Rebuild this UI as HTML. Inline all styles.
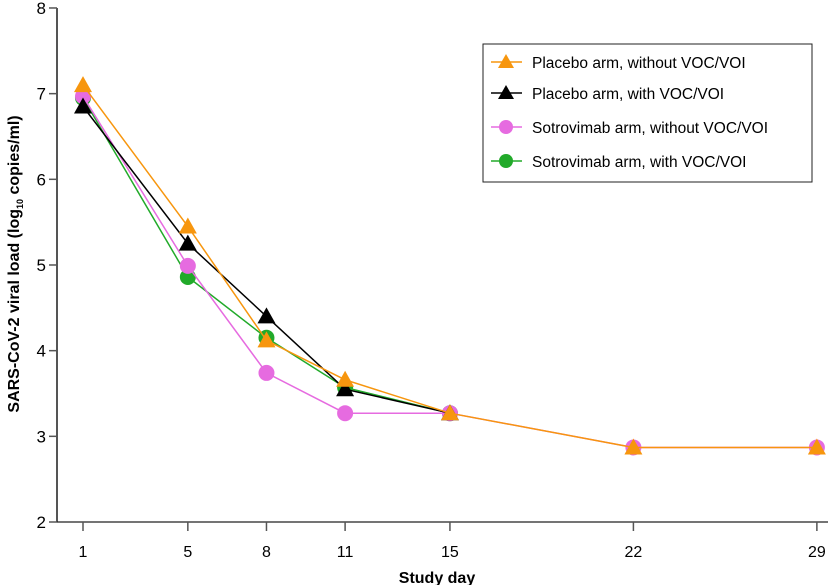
<!DOCTYPE html>
<html><head><meta charset="utf-8"><style>
body{margin:0;background:#fff}
svg{display:block;font-family:"Liberation Sans",Arial,sans-serif}
</style></head><body>
<svg id="chart" width="828" height="585" viewBox="0 0 828 585" xmlns="http://www.w3.org/2000/svg">
<g id="axes"></g>
<g id="series"></g>
<text x="437" y="583" text-anchor="middle" font-size="16" font-weight="bold">Study day</text>
<text transform="translate(19,264) rotate(-90)" text-anchor="middle" font-size="16" font-weight="bold">SARS-CoV-2 viral load (log<tspan font-size="9" dy="4">10</tspan><tspan dy="-4"> copies/ml)</tspan></text>
<g>
<rect x="483" y="44" width="329" height="138" fill="#fff" stroke="#222" stroke-width="1"/>
<g id="legend-items"></g>
</g>
</svg>
<script>
const days=[1,5,8,11,15,22,29];
const yTicks=[2,3,4,5,6,7,8];
const seriesNames=["Placebo arm, without VOC/VOI","Placebo arm, with VOC/VOI","Sotrovimab arm, without VOC/VOI","Sotrovimab arm, with VOC/VOI"];
const placeboWithout=[7.1,5.45,4.12,3.66,3.27,2.87,2.87];
const placeboWith=[6.85,5.25,4.4,3.55,3.27,null,null];
const sotroWithout=[6.97,4.99,3.74,3.27,3.27,2.87,2.87];
const sotroWith=[6.95,4.86,4.15,3.57,3.27,null,null];
const NS="http://www.w3.org/2000/svg";
const X=d=>83+(d-1)*26.21;
const Y=v=>522-(v-2)*85.67;
function mk(tag,attrs,parent){const e=document.createElementNS(NS,tag);for(const k in attrs)e.setAttribute(k,attrs[k]);parent.appendChild(e);return e;}
const axes=document.getElementById('axes');
let yl=mk('line',{x1:57,y1:8,x2:57,y2:522,stroke:'#555','stroke-width':2},axes);


let xl=mk('line',{x1:57,y1:522,x2:828,y2:522,stroke:'#222','stroke-width':1.2},axes);


yTicks.forEach(t=>{
 mk('line',{x1:49,y1:Y(t),x2:57,y2:Y(t),stroke:'#555','stroke-width':1.5},axes);
 const tx=mk('text',{x:46,y:Y(t)+6,'text-anchor':'end','font-size':17},axes);
 tx.textContent=t;
 
 
});
days.forEach(d=>{
 mk('line',{x1:X(d),y1:522,x2:X(d),y2:531,stroke:'#555','stroke-width':1.5},axes);
 const tx=mk('text',{x:X(d),y:557,'text-anchor':'middle','font-size':16},axes);
 tx.textContent=d;
 
 
});
const cfg=[
 {data:sotroWith,color:'#22aa2a',shape:'circle',name:'series-sotrovimab-with-voc'},
 {data:sotroWithout,color:'#e66be0',shape:'circle',name:'series-sotrovimab-without-voc'},
 {data:placeboWith,color:'#000',shape:'tri',name:'series-placebo-with-voc'},
 {data:placeboWithout,color:'#f7960e',shape:'tri',name:'series-placebo-without-voc'}
];
function marker(shape,cx,cy,color,g){
 if(shape==='circle') return mk('circle',{cx:cx,cy:cy,r:8,fill:color},g);
 return mk('polygon',{points:`${cx},${cy-9} ${cx-9},${cy+7} ${cx+9},${cy+7}`,fill:color},g);
}
const sg=document.getElementById('series');
cfg.forEach(s=>{
 const g=mk('g',{},sg);
 
 
 const pts=[];s.data.forEach((v,i)=>{if(v!=null)pts.push([X(days[i]),Y(v)]);});
 mk('polyline',{points:pts.map(p=>p.join(',')).join(' '),fill:'none',stroke:s.color,'stroke-width':1.5},g);
 pts.forEach(p=>{const m=marker(s.shape,p[0],p[1],s.color,g);
 
 });
});
const lg=document.getElementById('legend-items');
const legCfg=[cfg[3],cfg[2],cfg[1],cfg[0]];
const rowsY=[62,93,127,161];
legCfg.forEach((s,i)=>{
 const g=mk('g',{},lg);
 
 
 const y=rowsY[i];
 mk('line',{x1:491,y1:y,x2:522,y2:y,stroke:s.color,'stroke-width':1.5},g);
 if(s.shape==='circle')mk('circle',{cx:506,cy:y,r:7,fill:s.color},g);
 else mk('polygon',{points:`506,${y-8} 498,${y+6} 514,${y+6}`,fill:s.color},g);
 const t=mk('text',{x:532,y:y+6,'font-size':15.5},g);
 t.textContent=seriesNames[i];
});
</script>
</body></html>
